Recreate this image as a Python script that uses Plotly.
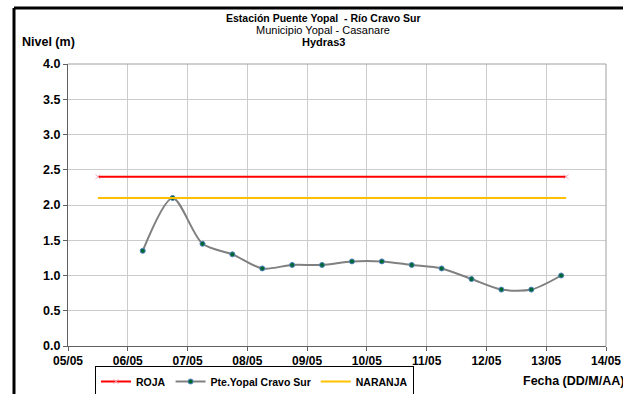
import plotly.graph_objects as go

# ---- data ----
fechas = ["2011-05-06 06:00", "2011-05-06 18:00", "2011-05-07 06:00", "2011-05-07 18:00",
          "2011-05-08 06:00", "2011-05-08 18:00", "2011-05-09 06:00", "2011-05-09 18:00",
          "2011-05-10 06:00", "2011-05-10 18:00", "2011-05-11 06:00", "2011-05-11 18:00",
          "2011-05-12 06:00", "2011-05-12 18:00", "2011-05-13 06:00"]
nivel = [1.35, 2.10, 1.45, 1.30, 1.10, 1.15, 1.15, 1.20, 1.20, 1.15, 1.10, 0.95, 0.80, 0.80, 1.00]

umbral_fechas = ["2011-05-05 12:00", "2011-05-13 08:00"]
roja = [2.4, 2.4]
naranja = [2.1, 2.1]

tick_vals = ["2011-05-05", "2011-05-06", "2011-05-07", "2011-05-08", "2011-05-09",
             "2011-05-10", "2011-05-11", "2011-05-12", "2011-05-13", "2011-05-14"]
tick_text = ["05/05", "06/05", "07/05", "08/05", "09/05", "10/05", "11/05", "12/05", "13/05", "14/05"]
y_ticks = [0.0, 0.5, 1.0, 1.5, 2.0, 2.5, 3.0, 3.5, 4.0]

FONT = "Liberation Sans, Arial, sans-serif"

fig = go.Figure()
fig.add_trace(go.Scatter(
    x=umbral_fechas, y=roja, name="ROJA", mode="lines+markers",
    line=dict(color="#ff0000", width=2),
    marker=dict(symbol="x-thin", size=5, line=dict(color="#f0b0c0", width=1), color="#f0b0c0"),
))
fig.add_trace(go.Scatter(
    x=fechas, y=nivel, name="Pte.Yopal Cravo Sur", mode="lines+markers",
    line=dict(color="#808080", width=2, shape="spline", smoothing=0.8),
    marker=dict(symbol="circle", size=5, color="#006633", line=dict(color="#4f81bd", width=1)),
))
fig.add_trace(go.Scatter(
    x=umbral_fechas, y=naranja, name="NARANJA", mode="lines",
    line=dict(color="#ffc000", width=2),
))

W, H = 623, 394
L, R, T, B = 68, 17, 64, 48
pw = W - L - R
ph = H - T - B

def px_x(p):
    return (p - L) / pw

def px_y(p):
    return (H - B - p) / ph

fig.update_layout(
    width=W, height=H,
    margin=dict(l=L, r=R, t=T, b=B, autoexpand=False),
    paper_bgcolor="white", plot_bgcolor="white",
    font=dict(family=FONT, size=11, color="black"),
    showlegend=True,
    legend=dict(
        orientation="h", xref="container", yref="container",
        x=95 / W, y=1 - 366 / H, xanchor="left", yanchor="top",
        bordercolor="black", borderwidth=1, bgcolor="white",
        font=dict(family=FONT, size=10.5, color="black", weight="bold"),
        itemwidth=30, tracegroupgap=0,
    ),
    xaxis=dict(
        type="date", range=["2011-05-05", "2011-05-14"],
        tickvals=tick_vals, ticktext=tick_text, automargin=False,
        tickfont=dict(family=FONT, size=12, color="black", weight="bold"),
        showgrid=True, gridcolor="#cccccc", gridwidth=1,
        showline=True, linecolor="#606060", linewidth=1, mirror=False,
        ticks="outside", ticklen=4, tickcolor="#606060",
        zeroline=False,
    ),
    yaxis=dict(
        range=[0, 4], tickvals=y_ticks, tickformat=".1f", automargin=False,
        tickfont=dict(family=FONT, size=12.5, color="black", weight="bold"),
        showgrid=True, gridcolor="#cccccc", gridwidth=1,
        showline=True, linecolor="#606060", linewidth=1,
        ticks="outside", ticklen=4, tickcolor="#606060",
        zeroline=False,
    ),
    shapes=[
        # plot area border (top/right)
        dict(type="line", xref="paper", yref="paper", x0=0, x1=1, y0=1, y1=1,
             line=dict(color="#a0a0a0", width=1)),
        dict(type="line", xref="paper", yref="paper", x0=1, x1=1, y0=0, y1=1,
             line=dict(color="#a0a0a0", width=1)),
        # outer black frame
        dict(type="line", xref="paper", yref="paper", x0=px_x(14), x1=px_x(630), y0=px_y(8), y1=px_y(8),
             line=dict(color="black", width=3)),
        dict(type="line", xref="paper", yref="paper", x0=px_x(14), x1=px_x(14), y0=px_y(8), y1=px_y(400),
             line=dict(color="black", width=3)),
    ],
    annotations=[
        dict(text="<b>Estación Puente Yopal  - Río Cravo Sur</b>", xref="paper", yref="paper",
             x=px_x(323), y=px_y(18), xanchor="center", yanchor="middle", showarrow=False,
             font=dict(family=FONT, size=10.5)),
        dict(text="Municipio Yopal - Casanare", xref="paper", yref="paper",
             x=px_x(323), y=px_y(30), xanchor="center", yanchor="middle", showarrow=False,
             font=dict(family=FONT, size=11)),
        dict(text="<b>Hydras3</b>", xref="paper", yref="paper",
             x=px_x(323), y=px_y(42), xanchor="center", yanchor="middle", showarrow=False,
             font=dict(family=FONT, size=11)),
        dict(text="<b>Nivel (m)</b>", xref="paper", yref="paper",
             x=px_x(20), y=px_y(42), xanchor="left", yanchor="middle", showarrow=False,
             font=dict(family=FONT, size=12.5)),
        dict(text="<b>Fecha (DD/M/AA)</b>", xref="paper", yref="paper",
             x=px_x(521), y=px_y(381), xanchor="left", yanchor="middle", showarrow=False,
             font=dict(family=FONT, size=12.5)),
    ],
)

fig.write_html(
    "out.html",
    config={"displayModeBar": False},
    post_script="document.body.style.margin='0';document.body.style.padding='0';"
                "document.body.style.overflow='hidden';",
)
